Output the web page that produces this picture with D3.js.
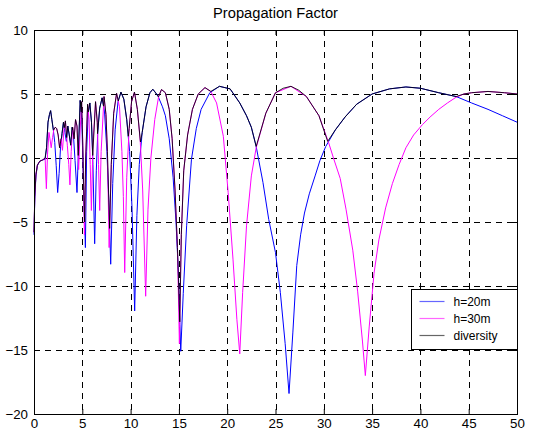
<!DOCTYPE html>
<html>
<head>
<meta charset="utf-8">
<script src="https://cdn.jsdelivr.net/npm/d3@7"></script>
<style>
  html, body { margin: 0; padding: 0; background: #fff; }
  svg text { font-family: "Liberation Sans", Arial, sans-serif; fill: #000; }
</style>
</head>
<body>
<svg id="chart" width="534" height="438"></svg>
<script>
// Range axis (km) and propagation factor axis (dB)
const xTicks = [0, 5, 10, 15, 20, 25, 30, 35, 40, 45, 50];
const yTicks = [-20, -15, -10, -5, 0, 5, 10];
const seriesNames = ["h=20m", "h=30m", "diversity"];
const seriesColors = ["#0000ff", "#ff00ff", "#000000"];

// Antenna height 20 m: [range km, factor dB]
const factorH20 = [
  [0,-6.0],[0.08,-3.2],[0.2,-1.4],[0.35,-0.6],[0.6,-0.25],[0.9,-0.15],[1.15,-0.1],[1.3,0.8],
  [1.45,2.8],[1.6,3.4],[1.72,3.7],[1.85,3.0],[2.0,2.2],[2.15,1.2],[2.3,-0.6],[2.45,-2.7],
  [2.6,-1.2],[2.75,0.9],[2.9,1.9],[3.05,2.8],[3.2,2.0],[3.35,1.3],[3.5,2.5],[3.65,1.8],
  [3.8,1.0],[3.95,2.4],[4.1,1.6],[4.25,-0.2],[4.45,-2.7],[4.6,0.5],[4.78,4.5],[4.95,3.0],
  [5.1,-1.5],[5.32,-7.0],[5.45,0.5],[5.6,3.4],[5.78,4.3],[5.95,2.8],[6.1,-0.5],[6.28,-6.7],
  [6.45,-1.0],[6.6,2.0],[6.8,3.9],[7.05,4.7],[7.3,3.6],[7.55,0.5],[7.75,-3.5],[7.94,-8.3],
  [8.15,-2.0],[8.4,2.2],[8.7,4.4],[9.0,5.15],[9.3,4.6],[9.6,3.0],[9.9,0.5],[10.15,-4.0],
  [10.42,-11.95],[10.65,-4.5],[10.9,-0.5],[11.2,2.0],[11.6,4.0],[12.0,5.1],[12.3,5.37],
  [12.8,4.9],[13.3,4.0],[13.6,3.3],[14.0,1.5],[14.4,-1.5],[14.7,-5.0],[14.95,-9.0],
  [15.1,-13.0],[15.19,-15.1],[15.45,-10.6],[15.8,-5.3],[16.3,-0.1],[16.8,2.3],[17.3,3.8],
  [18.2,5.1],[19.2,5.6],[20.3,5.4],[21.3,4.3],[22.0,3.3],[22.5,2.4],[23.0,0.9],[23.7,-1.9],
  [24.3,-4.8],[25.0,-7.4],[25.5,-10.5],[26.0,-14.5],[26.4,-18.4],[26.8,-13.6],[27.2,-8.4],
  [27.6,-6.0],[28.0,-4.3],[28.5,-2.8],[29.1,-1.4],[29.6,-0.2],[30.2,0.9],[31.2,2.2],
  [32.2,3.2],[33.4,4.2],[35.0,5.0],[36.8,5.4],[38.5,5.55],[40.0,5.45],[41.9,5.1],
  [43.7,4.8],[45.3,4.3],[47.0,3.8],[48.5,3.3],[50.0,2.8]
];

// Antenna height 30 m: [range km, factor dB]
const factorH30 = [
  [0,-5.8],[0.08,-3.0],[0.2,-1.3],[0.35,-0.55],[0.6,-0.25],[0.9,-0.15],[1.15,0.0],[1.28,-2.4],
  [1.4,0.3],[1.55,2.0],[1.65,1.5],[1.78,0.8],[1.92,1.6],[2.05,2.2],[2.2,2.4],[2.35,2.3],
  [2.5,1.8],[2.65,0.8],[2.8,1.5],[2.95,0.6],[3.1,2.2],[3.25,2.9],[3.45,1.0],[3.6,-0.5],
  [3.72,-2.1],[3.85,0.5],[4.0,2.4],[4.15,1.5],[4.3,3.0],[4.45,2.5],[4.62,-0.9],[4.8,2.5],
  [4.93,4.4],[5.05,1.0],[5.22,-6.0],[5.35,0.0],[5.55,4.2],[5.7,3.0],[5.82,-0.5],[5.94,-4.1],
  [6.1,1.0],[6.37,4.4],[6.55,2.8],[6.68,-0.5],[6.8,-4.1],[6.95,0.5],[7.25,4.8],[7.45,3.4],
  [7.6,0.5],[7.78,-7.0],[8.0,-0.5],[8.25,3.5],[8.55,5.05],[8.85,4.0],[9.1,0.5],[9.25,-3.0],
  [9.39,-8.95],[9.6,-1.5],[9.85,2.3],[10.1,4.4],[10.4,5.15],[10.7,3.8],[11.0,1.3],
  [11.25,-2.5],[11.56,-10.8],[11.8,-4.0],[12.1,0.0],[12.5,3.0],[12.9,4.8],[13.2,5.35],
  [13.6,5.1],[14.0,3.8],[14.3,1.5],[14.6,-2.5],[14.85,-7.0],[15.05,-14.5],[15.25,-6.0],
  [15.5,-1.0],[15.9,1.8],[16.4,3.8],[17.0,5.0],[17.7,5.5],[18.3,5.2],[18.9,4.3],[19.6,1.7],
  [20.1,-2.7],[20.6,-7.9],[21.0,-12.6],[21.3,-15.3],[21.6,-10.5],[22.0,-5.3],[22.5,-1.4],
  [23.0,0.8],[24.0,3.5],[25.0,5.1],[26.6,5.6],[28.2,4.8],[29.5,3.3],[30.5,1.2],[31.0,0.0],
  [31.7,-1.6],[32.3,-4.0],[33.0,-7.2],[33.5,-10.4],[34.0,-14.3],[34.3,-17.0],[34.7,-13.2],
  [35.2,-9.0],[35.7,-6.4],[36.4,-3.9],[37.1,-2.0],[37.8,-0.5],[38.5,0.8],[39.3,1.8],
  [40.2,2.6],[41.0,3.2],[41.9,3.8],[42.8,4.3],[43.7,4.75],[44.5,5.0],[45.3,5.1],
  [47.0,5.2],[48.7,5.1],[50.0,5.0]
];

// Diversity (the better of the two antennas): [range km, factor dB]
const factorDiversity = [
  [0,-5.8],[0.08,-3.0],[0.2,-1.3],[0.35,-0.55],[0.6,-0.25],[0.9,-0.15],[1.15,0.0],[1.3,0.8],
  [1.45,2.8],[1.6,3.4],[1.72,3.7],[1.85,3.0],[2.0,2.2],[2.05,2.2],[2.2,2.4],[2.35,2.3],
  [2.5,1.8],[2.65,0.8],[2.72,1.1],[2.8,1.5],[2.85,1.55],[2.9,1.9],[3.05,2.8],[3.13,2.37],
  [3.25,2.9],[3.38,1.6],[3.5,2.5],[3.65,1.8],[3.8,1.0],[3.85,1.47],[3.95,2.4],[3.99,2.2],
  [4.0,2.4],[4.1,1.8],[4.15,1.5],[4.3,3.0],[4.45,2.5],[4.58,0.2],[4.78,4.5],[4.89,3.6],
  [4.93,4.4],[5.05,1.0],[5.1,-1.0],[5.24,-5.0],[5.35,0.0],[5.45,2.1],[5.55,4.2],[5.62,3.6],
  [5.78,4.3],[5.95,2.8],[6.08,0.2],[6.37,4.4],[6.55,2.8],[6.58,1.9],[6.8,3.9],[7.05,4.7],
  [7.2,4.05],[7.25,4.8],[7.45,3.4],[7.6,0.5],[7.83,-5.5],[8.0,-0.5],[8.25,3.5],[8.55,5.05],
  [8.72,4.45],[9.0,5.15],[9.3,4.6],[9.6,3.0],[9.76,1.7],[9.85,2.3],[10.1,4.4],[10.4,5.15],
  [10.7,3.8],[11.02,1.25],[11.2,2.0],[11.6,4.0],[12.0,5.1],[12.3,5.37],[12.5,5.18],
  [12.85,4.8],[12.9,4.8],[13.2,5.35],[13.6,5.1],[14.0,3.8],[14.3,1.5],[14.6,-2.5],
  [14.85,-7.0],[15.09,-12.8],[15.25,-6.0],[15.5,-1.0],[15.9,1.8],[16.4,3.8],[17.0,5.0],
  [17.7,5.5],[18.3,5.2],[19.2,5.6],[20.3,5.4],[21.3,4.3],[22.0,3.3],[22.5,2.4],[23.0,0.9],
  [24.0,3.5],[25.0,5.1],[25.8,5.45],[26.6,5.6],[27.4,5.3],[28.2,4.8],[29.5,3.3],[30.4,1.3],
  [31.2,2.2],[32.2,3.2],[33.4,4.2],[35.0,5.0],[36.8,5.4],[38.5,5.55],[40.0,5.45],[41.9,5.1],
  [43.7,4.8],[44.5,5.0],[45.3,5.1],[47.0,5.2],[48.7,5.1],[50.0,5.0]
];

const W = 534, H = 438;
const margin = { top: 30, right: 17, bottom: 24, left: 34 };
const svg = d3.select("#chart");

const x = d3.scaleLinear().domain([0, 50]).range([margin.left, W - margin.right]);
const y = d3.scaleLinear().domain([-20, 10]).range([H - margin.bottom, margin.top]);

// Dashed grid
const grid = svg.append("g").attr("stroke", "#000").attr("stroke-width", 1)
  .attr("stroke-dasharray", "6,5").attr("shape-rendering", "crispEdges");
grid.selectAll("line.vx").data(xTicks.slice(1, -1)).join("line")
  .attr("x1", d => Math.round(x(d)) + 0.5).attr("x2", d => Math.round(x(d)) + 0.5)
  .attr("y1", y(10)).attr("y2", y(-20));
grid.selectAll("line.hy").data(yTicks.slice(1, -1)).join("line")
  .attr("y1", d => Math.round(y(d)) + 0.5).attr("y2", d => Math.round(y(d)) + 0.5)
  .attr("x1", x(0)).attr("x2", x(50));

// Curves
const line = d3.line().x(d => x(d[0])).y(d => y(d[1]));
const plot = svg.append("g").attr("fill", "none").attr("stroke-width", 1)
  .attr("stroke-linejoin", "round");
plot.append("path").datum(factorH20).attr("stroke", seriesColors[0]).attr("d", line);
plot.append("path").datum(factorH30).attr("stroke", seriesColors[1]).attr("d", line);
plot.append("path").datum(factorDiversity).attr("stroke", seriesColors[2])
  .attr("stroke-opacity", 0.85).attr("d", line);

// Axes box with inward ticks
const axisB = d3.axisBottom(x).tickValues(xTicks).tickSize(-5).tickPadding(5).tickFormat(d3.format("d"));
const axisL = d3.axisLeft(y).tickValues(yTicks).tickSize(-5).tickPadding(6).tickFormat(d3.format("d"));
const axisT = d3.axisTop(x).tickValues(xTicks).tickSize(-5).tickFormat("");
const axisR = d3.axisRight(y).tickValues(yTicks).tickSize(-5).tickFormat("");

function style(g) {
  g.select(".domain").remove();
  g.selectAll("line").attr("stroke", "#000");
  g.selectAll("text").attr("font-size", 13.3).attr("fill", "#000")
    .attr("font-family", "Liberation Sans, Arial, sans-serif");
}
svg.append("g").attr("transform", `translate(0,${y(-20)})`).call(axisB).call(style);
svg.append("g").attr("transform", `translate(${x(0)},0)`).call(axisL).call(style);
svg.append("g").attr("transform", `translate(0,${y(10)})`).call(axisT).call(style);
svg.append("g").attr("transform", `translate(${x(50)},0)`).call(axisR).call(style);

svg.append("rect")
  .attr("x", Math.round(x(0)) + 0.5).attr("y", Math.round(y(10)) + 0.5)
  .attr("width", Math.round(x(50)) - Math.round(x(0)))
  .attr("height", Math.round(y(-20)) - Math.round(y(10)))
  .attr("fill", "none").attr("stroke", "#000").attr("stroke-width", 1);

// Title
svg.append("text").attr("x", (x(0) + x(50)) / 2).attr("y", 18)
  .attr("text-anchor", "middle").attr("font-size", 14.7).text("Propagation Factor");

// Legend
const lg = svg.append("g").attr("transform", "translate(411.5,289.5)");
lg.append("rect").attr("width", 106).attr("height", 60)
  .attr("fill", "#fff").attr("stroke", "#000").attr("stroke-width", 1);
seriesNames.forEach((name, i) => {
  const cy = 12 + i * 17;
  lg.append("line").attr("x1", 8).attr("x2", 33).attr("y1", cy).attr("y2", cy)
    .attr("stroke", seriesColors[i]).attr("stroke-opacity", 0.6).attr("stroke-width", 1.2);
  lg.append("text").attr("x", 42).attr("y", cy + 4.5).attr("font-size", 12).text(name);
});
</script>
</body>
</html>
